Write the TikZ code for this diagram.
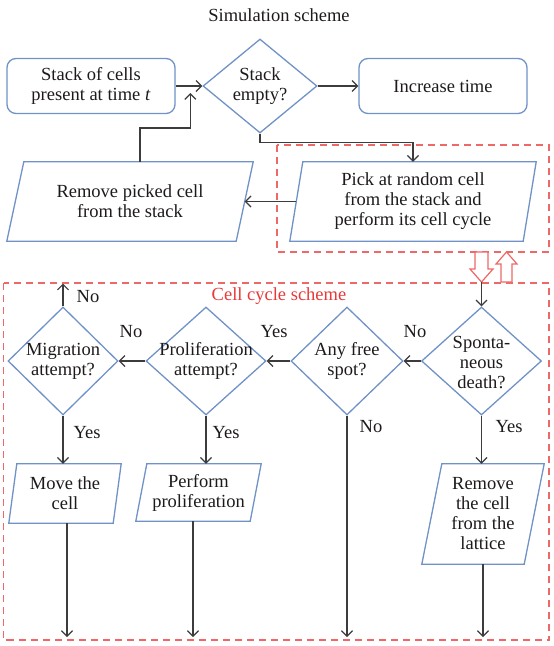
\documentclass[tikz,border=0pt]{standalone}
\usepackage{fontspec}
\setmainfont{Liberation Serif}
\usetikzlibrary{shapes.geometric,arrows.meta,calc}
\definecolor{bl}{RGB}{112,146,198}
\definecolor{rd}{RGB}{238,104,104}
\definecolor{rdtext}{RGB}{232,56,56}
\definecolor{ln}{RGB}{60,60,60}
\definecolor{tx}{RGB}{30,26,27}
\newcommand{\drawpara}[2]{\draw[bl, line width=1.3pt, line join=miter] ([xshift=#2]#1.north west) -- (#1.north east) -- ([xshift=-#2]#1.south east) -- (#1.south west) -- cycle;}
\begin{document}
\begin{tikzpicture}[x=1pt,y=-1pt,
  every node/.style={font=\fontsize{18.5}{20}\selectfont, text=tx},
  txt/.style={align=center, inner sep=0pt},
  rbox/.style={draw=bl, line width=1.3pt, rounded corners=9pt, minimum width=168pt, minimum height=55pt, align=center, inner sep=0pt},
  dia/.style={draw=bl, line width=1.3pt, diamond, inner sep=0pt},
  pbox/.style={inner sep=0pt, align=center},
  arr/.style={draw=ln, line width=1.2pt, -{Straight Barb[length=5.5pt,width=11pt]}},
  redbox/.style={draw=rd, line width=1.2pt, dash pattern=on 7pt off 5pt},
  hollow/.style={draw=rd, fill=white, line width=1.2pt, line join=miter},
  lab/.style={inner sep=0pt}
]
\useasboundingbox (0,0) rectangle (554,646);

% title
\node[txt] (title) at (279,15) {Simulation scheme};

% red dashed frames
\draw[redbox] (277,145) rectangle (549,252);
\draw[redbox] (3.5,283) rectangle (549,640);
\node[txt, text=rdtext] (cc) at (279,296) {Cell cycle scheme};

% hollow arrows
\draw[hollow] (475,252) -- (488,252) -- (488,269) -- (493,269) -- (481.5,282) -- (470,269) -- (475,269) -- cycle;
\draw[hollow] (506.5,252) -- (517,264) -- (512,264) -- (512,282) -- (501,282) -- (501,264) -- (496,264) -- cycle;
\coordinate (dtip) at (481.5,282);

% simulation scheme
\node[rbox] (stack) at (91,86) {Stack of cells\\present at time \textit{t}};
\node[dia, minimum width=114pt, minimum height=94pt] (d1) at (260,86) {};
\node[txt] (d1t) at (260,86) {Stack\\empty?};
\node[rbox] (inc) at (443,86) {Increase time};

\node[pbox, minimum width=246pt, minimum height=79pt] (rem) at (130,201.5) {Remove picked cell\\from the stack};
\drawpara{rem}{17pt}
\node[pbox, minimum width=246pt, minimum height=79pt] (pick) at (413,201.5) {Pick at random cell\\from the stack and\\perform its cell cycle};
\drawpara{pick}{13pt}

\draw[arr] (stack.east) -- (d1.west);
\draw[arr] (d1.east) -- (inc.west);
\coordinate (mj) at ($(stack.east)!0.55!(d1.west)$);
\coordinate (jy) at (0,128);
\draw[arr] ([xshift=10pt]rem.north) |- (mj |- jy) -- ([yshift=-7pt]mj);
\draw[arr] (d1.south) -- ++(0,9) -| (pick.north);
\draw[arr] ([xshift=6.5pt]pick.west) -- ([xshift=-8.5pt]rem.east);

% cell cycle scheme
\node[dia, minimum width=120pt, minimum height=108pt] (sp) at (481.5,361) {};
\node[txt] (spt) at (481.5,363) {Sponta-\\neous\\death?};
\node[dia, minimum width=112pt, minimum height=108pt] (af) at (347,361) {};
\node[txt] (aft) at (347,361) {Any free\\spot?};
\node[dia, minimum width=120pt, minimum height=108pt] (pr) at (206,361) {};
\node[txt] (prt) at (206,361) {Proliferation\\attempt?};
\node[dia, minimum width=110pt, minimum height=108pt] (mg) at (63,361) {};
\node[txt] (mgt) at (63,361) {Migration\\attempt?};

\node[pbox, minimum width=112pt, minimum height=59pt] (mv) at (65,493.5) {Move the\\cell};
\drawpara{mv}{8pt}
\node[pbox, minimum width=125pt, minimum height=57pt] (pf) at (198.5,492.5) {Perform\\proliferation};
\drawpara{pf}{11pt}
\node[pbox, minimum width=122pt, minimum height=100pt] (rl) at (483,514) {Remove\\the cell\\from the\\lattice};
\drawpara{rl}{20pt}

\draw[arr] (sp.north |- dtip) -- (sp.north);
\draw[arr] (sp.west) -- (af.east);
\draw[arr] (af.west) -- (pr.east);
\draw[arr] (pr.west) -- (mg.east);
\coordinate (topc) at (0,283.5);
\draw[arr] (mg.north) -- (mg.north |- topc);
\draw[arr] (mg.south) -- (mg.south |- mv.north);
\draw[arr] (pr.south) -- (pr.south |- pf.north);
\draw[arr] (sp.south) -- (sp.south |- rl.north);

\coordinate (e1) at (67,637);
\coordinate (e2) at (193,637);
\coordinate (e3) at (347,637);
\coordinate (e4) at (483,637);
\draw[arr] (mv.south -| e1) -- (e1);
\draw[arr] (pf.south -| e2) -- (e2);
\draw[arr] (af.south) -- (e3);
\draw[arr] (rl.south -| e4) -- (e4);

% labels
\node[lab] (l1) at (415,332) {No};
\node[lab] (l2) at (274,332) {Yes};
\node[lab] (l3) at (131,332) {No};
\node[lab] (l4) at (88,297) {No};
\node[lab] (l5) at (87,433) {Yes};
\node[lab] (l6) at (226,433) {Yes};
\node[lab] (l7) at (371,427) {No};
\node[lab] (l8) at (509,427) {Yes};
\end{tikzpicture}
\end{document}
